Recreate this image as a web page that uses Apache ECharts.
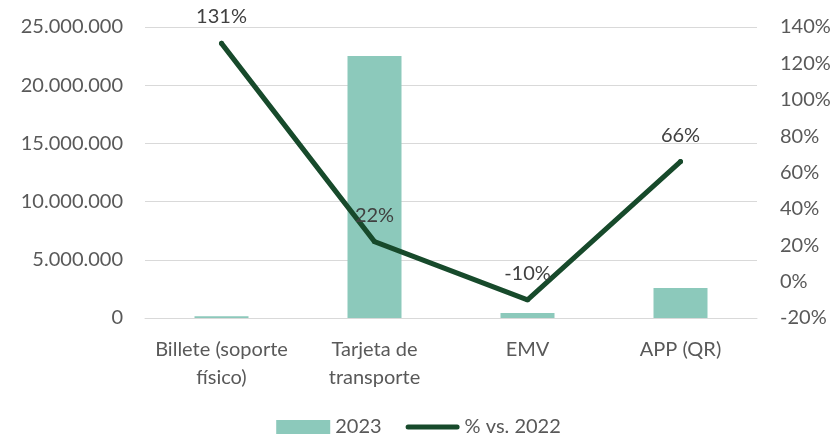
<!DOCTYPE html>
<html>
<head>
<meta charset="utf-8">
<script src="https://cdn.jsdelivr.net/npm/echarts@6/dist/echarts.min.js"></script>
<style>
  html, body { margin: 0; padding: 0; background: #fff; }
  #chartsDiv { width: 837px; height: 444px; }
</style>
</head>
<body>
<div id="chartsDiv"></div>
<script>
var categories = ['Billete (soporte\nfísico)', 'Tarjeta de\ntransporte', 'EMV', 'APP (QR)'];
var viajes2023 = [150000, 22500000, 430000, 2580000];
var variacion = [131, 22, -10, 66];

var txtColor = '#595959';
var fontName = 'Lato';

var realChart = echarts.init(document.getElementById('chartsDiv'));

function puntos(v) {
  return String(v).replace(/\B(?=(\d{3})+(?!\d))/g, '.');
}

var option = {
  animation: false,
  textStyle: { fontFamily: fontName },
  grid: {
    left: 145,
    right: 80,
    top: 27,
    bottom: 126
  },
  legend: {
    bottom: 2,
    left: 'center',
    itemWidth: 54,
    itemHeight: 14,
    itemGap: 24,
    textStyle: { color: txtColor, fontSize: 20, fontFamily: fontName },
    data: [
      { name: '2023', icon: 'rect' },
      // linea gruesa con extremos redondeados
      { name: '% vs. 2022', icon: 'path://M0,0M0,14M2.5,4.5h49a2.5,2.5 0 0 1 0,5h-49a2.5,2.5 0 0 1 0,-5z' }
    ]
  },
  xAxis: {
    type: 'category',
    data: categories,
    axisLine: { lineStyle: { color: '#d9d9d9', width: 1 } },
    axisTick: { show: false },
    axisLabel: {
      color: txtColor,
      fontSize: 20,
      lineHeight: 28,
      margin: 18,
      interval: 0
    }
  },
  yAxis: [{
    type: 'value',
    min: 0,
    max: 25000000,
    interval: 5000000,
    axisLine: { show: false },
    axisTick: { show: false },
    splitLine: { lineStyle: { color: '#d9d9d9', width: 1 } },
    axisLabel: {
      color: txtColor,
      fontSize: 20,
      margin: 22,
      formatter: function (value) {
        return puntos(value);
      }
    }
  }, {
    type: 'value',
    min: -20,
    max: 140,
    interval: 20,
    axisLine: { show: false },
    axisTick: { show: false },
    splitLine: { show: false },
    axisLabel: {
      color: txtColor,
      fontSize: 20,
      margin: 23,
      formatter: '{value}%'
    }
  }],
  series: [{
    name: '2023',
    type: 'bar',
    barWidth: 54,
    itemStyle: { color: '#8cc9bb' },
    data: viajes2023
  }, {
    name: '% vs. 2022',
    type: 'line',
    yAxisIndex: 1,
    symbol: 'circle',
    symbolSize: 5,
    itemStyle: { color: '#174a2b' },
    lineStyle: { color: '#174a2b', width: 5, cap: 'round', join: 'round' },
    label: {
      show: true,
      position: 'top',
      distance: 14,
      color: '#404040',
      fontSize: 20,
      formatter: '{c}%'
    },
    z: 5,
    data: variacion
  }]
};

realChart.setOption(option);
</script>
</body>
</html>
